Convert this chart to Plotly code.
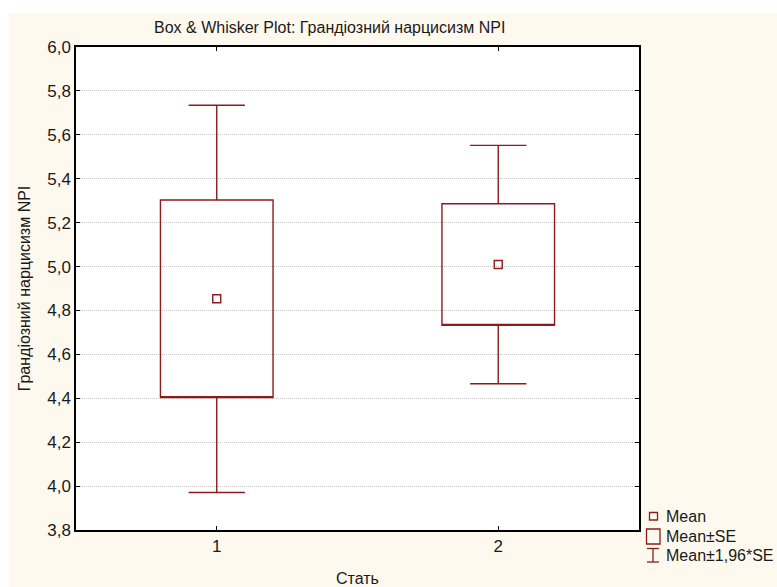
import plotly.graph_objects as go

# ---- data ----
categories = [1, 2]
category_labels = ["1", "2"]
means = [4.853, 5.009]
se = [0.450, 0.277]
y_ticks = [3.8, 4.0, 4.2, 4.4, 4.6, 4.8, 5.0, 5.2, 5.4, 5.6, 5.8, 6.0]
y_tick_labels = ["3,8", "4,0", "4,2", "4,4", "4,6", "4,8", "5,0", "5,2", "5,4", "5,6", "5,8", "6,0"]

title_text = "Box & Whisker Plot: Грандіозний нарцисизм NPI"
y_title = "Грандіозний нарцисизм NPI"
x_title = "Стать"
legend_labels = ["Mean", "Mean±SE", "Mean±1,96*SE"]

# derived stats
q1 = [m - s for m, s in zip(means, se)]
q3 = [m + s for m, s in zip(means, se)]
lo = [m - 1.96 * s for m, s in zip(means, se)]
hi = [m + 1.96 * s for m, s in zip(means, se)]

# ---- style ----
W, H = 777, 587
ML, MR, MT, MB = 76, 138, 47, 57
PW, PH = W - ML - MR, H - MT - MB
RED = "#8c1c1c"
CREAM = "#fef9ee"
FONT = "Liberation Sans, Arial, sans-serif"
TXT = "#1a1a1a"
FS = 16


def px(x):
    return (x - ML) / PW


def py(y):
    return (H - MB - y) / PH


fig = go.Figure()

fig.add_trace(go.Box(
    x=categories, q1=q1, median=q1, q3=q3,
    lowerfence=lo, upperfence=hi,
    width=0.4, whiskerwidth=0.5,
    fillcolor="rgba(255,255,255,0)",
    line=dict(color=RED, width=1.4),
    boxpoints=False, hoverinfo="skip", showlegend=False,
))

fig.add_trace(go.Scatter(
    x=categories, y=means, mode="markers",
    marker=dict(symbol="square-open", size=8, color=RED, line=dict(width=1.4, color=RED)),
    showlegend=False, hoverinfo="skip",
))

shapes = [
    # white strips outside the cream panel
    dict(type="rect", xref="paper", yref="paper", x0=px(0), x1=px(W), y0=py(13), y1=py(0),
         fillcolor="white", line=dict(width=0), layer="below"),
    dict(type="rect", xref="paper", yref="paper", x0=px(0), x1=px(9), y0=py(H), y1=py(0),
         fillcolor="white", line=dict(width=0), layer="below"),
    # legend icons
    dict(type="rect", xref="paper", yref="paper", x0=px(649.5), x1=px(657.5), y0=py(520), y1=py(512.5),
         line=dict(color=RED, width=1.3), fillcolor="rgba(0,0,0,0)"),
    dict(type="rect", xref="paper", yref="paper", x0=px(646.5), x1=px(660), y0=py(544), y1=py(529),
         line=dict(color=RED, width=1.3), fillcolor="rgba(0,0,0,0)"),
    dict(type="line", xref="paper", yref="paper", x0=px(653), x1=px(653), y0=py(562), y1=py(548.5),
         line=dict(color=RED, width=1.3)),
    dict(type="line", xref="paper", yref="paper", x0=px(647), x1=px(659), y0=py(548.5), y1=py(548.5),
         line=dict(color=RED, width=1.3)),
    dict(type="line", xref="paper", yref="paper", x0=px(647), x1=px(659), y0=py(562), y1=py(562),
         line=dict(color=RED, width=1.3)),
]

annotations = [
    dict(text=title_text, xref="paper", yref="paper", x=px(329), y=py(27), showarrow=False,
         xanchor="center", yanchor="middle", font=dict(size=FS, color=TXT, family=FONT)),
]
for lab, yy in zip(legend_labels, [516.5, 536.5, 555.5]):
    annotations.append(dict(text=lab, xref="paper", yref="paper", x=px(664), y=py(yy),
                            showarrow=False, xanchor="left", yanchor="middle",
                            font=dict(size=FS, color=TXT, family=FONT)))

fig.update_layout(
    width=W, height=H,
    margin=dict(l=ML, r=MR, t=MT, b=MB, pad=0, autoexpand=False),
    paper_bgcolor=CREAM, plot_bgcolor="white",
    font=dict(family=FONT, size=FS, color=TXT),
    shapes=shapes, annotations=annotations,
    showlegend=False,
    xaxis=dict(
        range=[0.5, 2.5], tickvals=categories, ticktext=category_labels,
        showgrid=False, zeroline=False, automargin=False,
        showline=True, linecolor="black", linewidth=1.5, mirror="ticks",
        ticks="inside", ticklen=4, tickcolor="black",
        title=dict(text=x_title, standoff=18, font=dict(size=FS)),
        tickfont=dict(size=17),
    ),
    yaxis=dict(
        range=[3.8, 6.0], tickvals=y_ticks, ticktext=y_tick_labels,
        showgrid=True, gridcolor="#c4c4c4", griddash="1px,1px", gridwidth=1,
        zeroline=False, automargin=False,
        showline=True, linecolor="black", linewidth=1.5, mirror="ticks",
        ticks="inside", ticklen=4, tickcolor="black",
        title=dict(text=y_title, standoff=13, font=dict(size=FS)),
        tickfont=dict(size=17),
    ),
)

fig.write_html("out.html")
